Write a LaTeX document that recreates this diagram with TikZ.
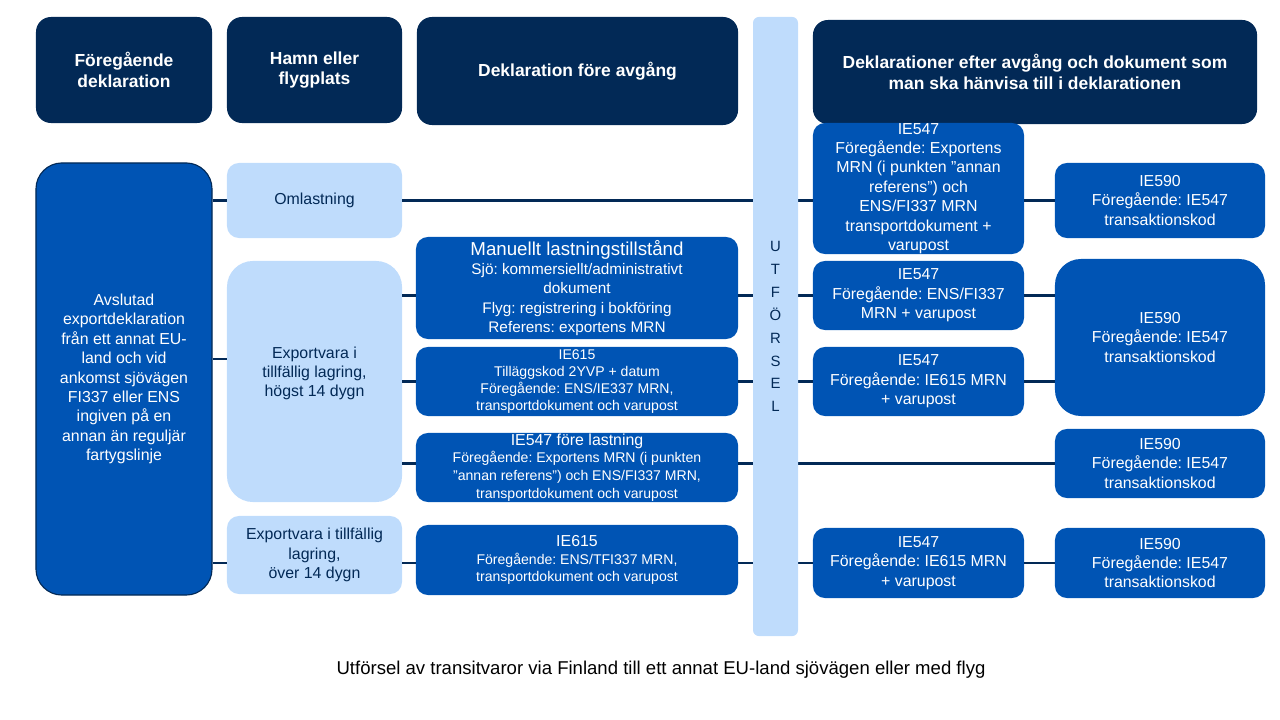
\documentclass[tikz,border=0pt]{standalone}
\usepackage{fontspec}
\setmainfont{Liberation Sans}
\usepackage{xcolor}
\usetikzlibrary{positioning}

\definecolor{navy}{RGB}{2,41,86}
\definecolor{boxblue}{RGB}{0,84,180}
\definecolor{pale}{RGB}{191,220,252}

\tikzset{
  head/.style={fill=navy, text=white, rounded corners=0.375cm, align=center, inner sep=0pt,
               font=\frenchspacing\bfseries\fontsize{12.4}{14.6}\selectfont},
  decl/.style={fill=boxblue, text=white, rounded corners=0.3cm, align=center, inner sep=0pt,
               font=\frenchspacing\fontsize{11.3}{13.8}\selectfont},
  port/.style={fill=pale, text=navy, rounded corners=0.3cm, align=center, inner sep=0pt,
               font=\frenchspacing\fontsize{11.3}{13.8}\selectfont},
  wire/.style={draw=navy, line width=2pt},
  dims/.style 2 args={minimum width=#1cm, minimum height=#2cm}
}

\begin{document}
\begin{tikzpicture}[x=0.025cm, y=-0.025cm]
\useasboundingbox (0,0) rectangle (1280,720);
% column heads
\node[head, dims={4.4}{2.65}] (hprev) at (124,70) {Föregående\\deklaration};
\node[head, dims={4.375}{2.65}] (hport) at (314.5,70) {Hamn eller\\flygplats};
\node[head, dims={8.025}{2.7}] (hpre) at (577.5,71) {Deklaration före avgång};
\node[head, dims={11.1}{2.6}] (hpost) at (1035,72) {Deklarationer efter avgång och dokument som\\man ska hänvisa till i deklarationen};
% previous declaration
\node[decl, draw=navy, line width=0.8pt, rounded corners=0.65cm, dims={4.4}{10.8}] (prev) at (124,379)
  {Avslutad\\exportdeklaration\\från ett annat EU-\\land och vid\\ankomst sjövägen\\FI337 eller ENS\\ingiven på en\\annan än reguljär\\fartygslinje};
% port or airport
\node[port, dims={4.375}{1.875}] (omla) at (314.5,200.5) {Omlastning};
\node[port, rounded corners=0.65cm, dims={4.375}{6.025}] (short) at (314.5,381.5) {Exportvara i\\tillfällig lagring,\\högst 14 dygn\\~};
\node[port, dims={4.375}{1.95}] (long) at (314.5,555) {Exportvara i tillfällig\\lagring,\\över 14 dygn};
% before departure
\node[decl, font=\frenchspacing\fontsize{10.9}{13.8}\selectfont, dims={8.05}{2.55}] (manu) at (577,288)
  {{\fontsize{13.3}{15}\selectfont Manuellt lastningstillstånd}\\Sjö: kommersiellt/administrativt\\dokument\\Flyg: registrering i bokföring\\Referens: exportens MRN};
\node[decl, font=\frenchspacing\fontsize{10}{12}\selectfont, dims={8.05}{1.725}] (sea) at (577,381.5)
  {IE615\\Tilläggskod 2YVP + datum\\Föregående: ENS/IE337 MRN,\\transportdokument och varupost};
\node[decl, font=\frenchspacing\fontsize{10}{12.7}\selectfont, dims={8.05}{1.725}] (pre) at (577,467.5)
  {{\fontsize{11.3}{13.8}\selectfont IE547 före lastning}\\Föregående: Exportens MRN (i punkten\\”annan referens”) och ENS/FI337 MRN,\\transportdokument och varupost};
\node[decl, font=\frenchspacing\fontsize{10}{12.7}\selectfont, dims={8.05}{1.75}] (over) at (577,560)
  {{\fontsize{11.3}{13.8}\selectfont IE615}\\Föregående: ENS/TFI337 MRN,\\transportdokument och varupost};
% after departure
\node[decl, dims={5.275}{3.275}] (omlx) at (918.5,188.5)
  {IE547\\Föregående: Exportens\\MRN (i punkten ”annan\\referens”) och\\ENS/FI337 MRN\\transportdokument +\\varupost};
\node[decl, dims={5.275}{1.725}] (manx) at (918.5,295.5) {IE547\\Föregående: ENS/FI337\\MRN + varupost};
\node[decl, dims={5.275}{1.725}] (seax) at (918.5,381.5) {IE547\\Föregående: IE615 MRN\\+ varupost};
\node[decl, dims={5.275}{1.75}] (overx) at (918.5,563) {IE547\\Föregående: IE615 MRN\\+ varupost};
\foreach \n/\y/\h/\r in {omlt/200.5/1.875/0.3, mant/337.5/3.925/0.65, pret/463.5/1.725/0.3, overt/563/1.75/0.3}
  \node[decl, rounded corners=\r cm, dims={5.25}{\h}] (\n) at (1160,\y) {IE590\\Föregående: IE547\\transaktionskod};
% connectors
\coordinate (shortin) at ([yshift=0.5625cm]short.west);
\draw[wire] (prev.east |- omla.west) -- (omla.west);
\draw[wire] (prev.east |- shortin) -- (shortin);
\draw[wire] (prev.east |- overx.west) -- (long.west |- overx.west);
\draw[wire] (omla.east) -- (omla.east -| omlx.west);
\draw[wire] (omlx.east |- omlt.west) -- (omlt.west);
\draw[wire] (short.east |- manx.west) -- (manu.west |- manx.west);
\draw[wire] (manu.east |- manx.west) -- (manx.west);
\draw[wire] (manx.east) -- (manx.east -| mant.west);
\draw[wire] (short.east |- sea.west) -- (sea.west);
\draw[wire] (sea.east) -- (sea.east -| seax.west);
\draw[wire] (seax.east) -- (seax.east -| mant.west);
\draw[wire] (short.east |- pret.west) -- (pre.west |- pret.west);
\draw[wire] (pre.east |- pret.west) -- (pret.west);
\draw[wire] (long.east |- overx.west) -- (over.west |- overx.west);
\draw[wire] (over.east |- overx.west) -- (overx.west);
\draw[wire] (overx.east) -- (overt.west);
% export bar on top of the lines
\node[fill=pale, text=navy, rounded corners=0.15cm, dims={1.125}{15.475}, inner sep=0pt, align=center,
      font=\fontsize{10.6}{16.3}\selectfont] (exit) at (775.5,326.5) {U\\T\\F\\Ö\\R\\S\\E\\L};
\node[font=\fontsize{13.2}{16}\selectfont] (title) at (661,670) {Utförsel av transitvaror via Finland till ett annat EU-land sjövägen eller med flyg};
\end{tikzpicture}
\end{document}
